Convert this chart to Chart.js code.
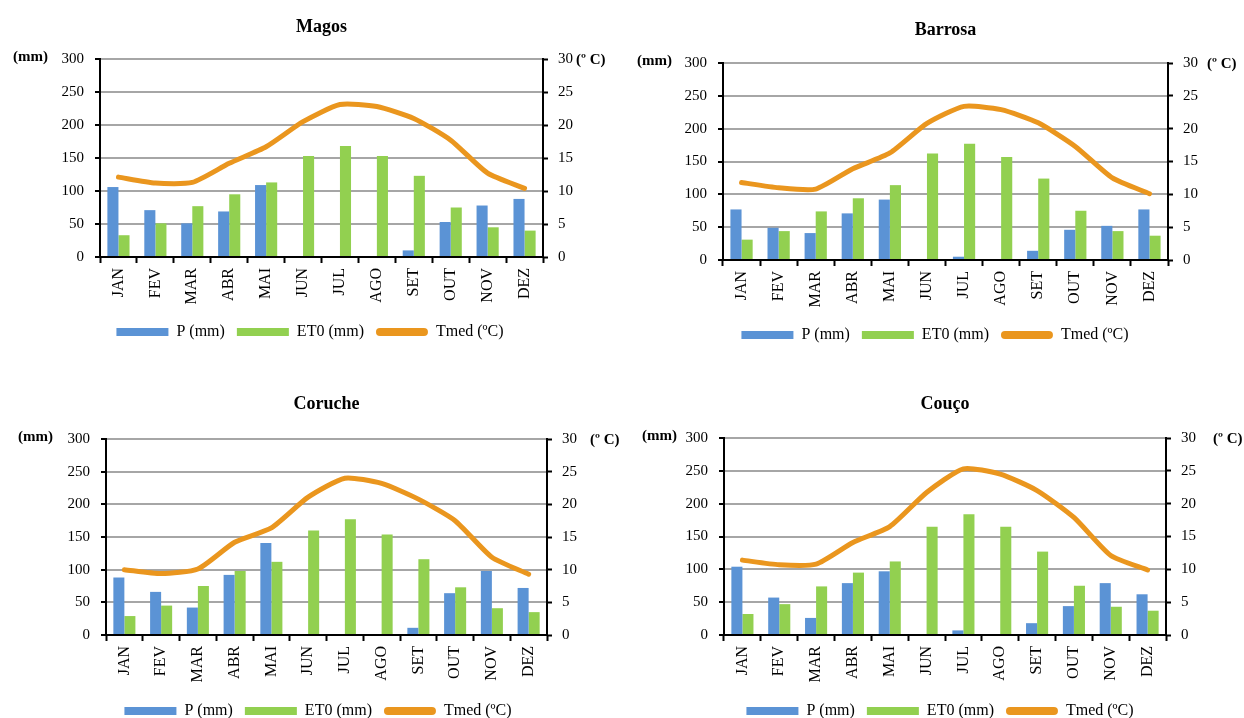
<!DOCTYPE html>
<html>
<head>
<meta charset="utf-8">
<script src="https://cdn.jsdelivr.net/npm/chart.js@4.4.0/dist/chart.umd.min.js"></script>
<style>
  html, body { margin: 0; padding: 0; background: #fff; overflow: hidden; }
  body { width: 1244px; height: 718px; position: relative; }
  canvas { position: absolute; }
</style>
</head>
<body>
<canvas id="magos"></canvas>
<canvas id="barrosa"></canvas>
<canvas id="coruche"></canvas>
<canvas id="couco"></canvas>
<script>
// months on the x axis
const months = ["JAN", "FEV", "MAR", "ABR", "MAI", "JUN", "JUL", "AGO", "SET", "OUT", "NOV", "DEZ"];

// Magos
const magosP   = [106, 71, 51, 69, 109, 0, 0, 0, 10, 53, 78, 88];
const magosET0 = [33, 51, 77, 95, 113, 153, 168, 153, 123, 75, 45, 40];
const magosT   = [12.1, 11.2, 11.3, 14.2, 16.7, 20.5, 23.1, 22.8, 21.0, 17.7, 12.7, 10.4];

// Barrosa
const barrosaP   = [77, 49, 41, 71, 92, 0, 5, 0, 14, 46, 52, 77];
const barrosaET0 = [31, 44, 74, 94, 114, 162, 177, 157, 124, 75, 44, 37];
const barrosaT   = [11.8, 11.0, 10.8, 13.9, 16.3, 20.8, 23.4, 22.9, 20.9, 17.3, 12.5, 10.1];

// Coruche
const corucheP   = [88, 66, 42, 92, 141, 0, 0, 0, 11, 64, 98, 72];
const corucheET0 = [29, 45, 75, 98, 112, 160, 177, 154, 116, 73, 41, 35];
const corucheT   = [10.0, 9.4, 10.1, 14.2, 16.4, 21.1, 24.0, 23.2, 20.8, 17.5, 11.9, 9.3];

// Couco
const coucoP   = [104, 57, 26, 79, 97, 0, 7, 0, 18, 44, 79, 62];
const coucoET0 = [32, 47, 74, 95, 112, 165, 184, 165, 127, 75, 43, 37];
const coucoT   = [11.4, 10.7, 10.8, 14.1, 16.5, 21.7, 25.3, 24.5, 22.0, 17.9, 12.1, 9.9];

const leftTicks = [0, 50, 100, 150, 200, 250, 300];
const rightTicks = [0, 5, 10, 15, 20, 25, 30];

const FONT = "'Liberation Serif', 'Times New Roman', serif";
const BLUE = "#5b93d5";
const GREEN = "#92d050";
const ORANGE = "#ea961e";
const GRID = "#a6a6a6";

Chart.defaults.color = "#000";
Chart.defaults.font.family = FONT;

// "(mm)" and "(º C)" next to the top of each axis
const unitLabels = {
    id: "unitLabels",
    afterDraw(chart, args, opts) {
        const ctx = chart.ctx;
        const area = chart.chartArea;
        ctx.save();
        ctx.font = "bold 15px " + FONT;
        ctx.fillStyle = "#000";
        ctx.textBaseline = "middle";
        ctx.textAlign = "right";
        ctx.fillText("(mm)", area.left - opts.mmGap, area.top - 2);
        ctx.textAlign = "left";
        ctx.fillText("(º C)", area.right + opts.degGap, area.top + 1);
        ctx.restore();
    }
};

// legend: bars as flat boxes, the line as a rounded orange bar
function legendLabels(chart) {
    const items = Chart.defaults.plugins.legend.labels.generateLabels(chart);
    items.forEach(item => {
        item.lineWidth = 0;
        item.borderRadius = item.datasetIndex === 2 ? 4 : 0;
    });
    return items;
}

// geo: canvas box (page px) and target plot box (page px)
function createChart(id, title, P, ET0, T, geo) {
    const canvas = document.getElementById(id);
    canvas.width = geo.w;
    canvas.height = geo.h;
    canvas.style.left = geo.x + "px";
    canvas.style.top = geo.y + "px";

    const titleSize = 18;
    const titleLine = titleSize * 1.2;
    const padTop = geo.titleY - geo.y - titleLine / 2;
    const padBottom = geo.top - geo.y - padTop - titleLine;

    const legendPad = 12;
    const legendTop = geo.legendY - legendPad - 8;
    const xHeight = legendTop - geo.bottom;
    const bottomPad = geo.y + geo.h - (legendTop + 36 + legendPad - 10);

    return new Chart(canvas.getContext("2d"), {
        type: "bar",
        data: {
            labels: months,
            datasets: [
                { label: "P (mm)", data: P, backgroundColor: BLUE, yAxisID: "y", order: 1 },
                { label: "ET0 (mm)", data: ET0, backgroundColor: GREEN, yAxisID: "y", order: 1 },
                {
                    label: "Tmed (ºC)", type: "line", data: T, yAxisID: "y1", order: 0,
                    borderColor: ORANGE, backgroundColor: ORANGE, borderWidth: 5,
                    pointRadius: 0, tension: 0.2, borderCapStyle: "round", borderJoinStyle: "round"
                }
            ]
        },
        options: {
            responsive: false,
            animation: false,
            layout: { padding: { top: 0, left: 0, right: 0, bottom: bottomPad } },
            datasets: { bar: { categoryPercentage: 0.6, barPercentage: 1.0 } },
            scales: {
                x: {
                    offset: true,
                    grid: { offset: true, drawOnChartArea: false, tickLength: 6, tickColor: "#000", tickWidth: 2 },
                    border: { color: "#000", width: 2 },
                    ticks: { minRotation: 90, maxRotation: 90, padding: 5, font: { size: 16 } },
                    afterFit(scale) { scale.height = xHeight; }
                },
                y: {
                    position: "left", min: 0, max: 300,
                    afterBuildTicks(scale) { scale.ticks = leftTicks.map(v => ({ value: v })); },
                    grid: { color: GRID, lineWidth: 2, tickColor: "#000", tickLength: 5, tickWidth: 2 },
                    border: { color: "#000", width: 2 },
                    ticks: { padding: 11, font: { size: 15 } },
                    afterFit(scale) { scale.width = geo.left - geo.x; }
                },
                y1: {
                    position: "right", min: 0, max: 30,
                    afterBuildTicks(scale) { scale.ticks = rightTicks.map(v => ({ value: v })); },
                    grid: { drawOnChartArea: false, tickColor: "#000", tickLength: 5, tickWidth: 2 },
                    border: { color: "#000", width: 2 },
                    ticks: { padding: 10, font: { size: 15 } },
                    afterFit(scale) { scale.width = geo.x + geo.w - geo.right; }
                }
            },
            plugins: {
                title: {
                    display: true, text: title, fullSize: false,
                    font: { size: titleSize, weight: "bold", lineHeight: 1.2 },
                    padding: { top: padTop, bottom: padBottom }
                },
                legend: {
                    position: "bottom",
                    labels: {
                        boxWidth: 52, boxHeight: 8, padding: legendPad,
                        useBorderRadius: true,
                        font: { size: 16 },
                        generateLabels: legendLabels,
                        sort: (a, b) => a.datasetIndex - b.datasetIndex
                    }
                },
                tooltip: { enabled: false },
                unitLabels: { mmGap: geo.mmGap, degGap: geo.degGap }
            }
        },
        plugins: [unitLabels]
    });
}

createChart("magos", "Magos", magosP, magosET0, magosT,
    { x: 0, y: 0, w: 620, h: 365, left: 100, right: 543, top: 59, bottom: 257, titleY: 27, legendY: 332, mmGap: 52, degGap: 33 });
createChart("barrosa", "Barrosa", barrosaP, barrosaET0, barrosaT,
    { x: 626, y: 0, w: 618, h: 365, left: 723, right: 1168, top: 63, bottom: 260, titleY: 30, legendY: 335, mmGap: 51, degGap: 39 });
createChart("coruche", "Coruche", corucheP, corucheET0, corucheT,
    { x: 0, y: 370, w: 636, h: 360, left: 106, right: 547, top: 439, bottom: 635, titleY: 404, legendY: 711, mmGap: 53, degGap: 43 });
createChart("couco", "Couço", coucoP, coucoET0, coucoT,
    { x: 636, y: 370, w: 608, h: 360, left: 724, right: 1166, top: 438, bottom: 635, titleY: 404, legendY: 711, mmGap: 47, degGap: 47 });
</script>
</body>
</html>
